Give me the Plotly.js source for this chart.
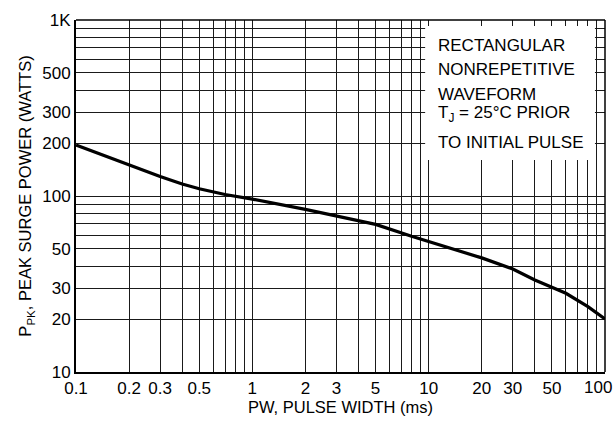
<!DOCTYPE html>
<html>
<head>
<meta charset="utf-8">
<script src="https://cdn.plot.ly/plotly-3.0.1.min.js"></script>
<style>html,body{margin:0;padding:0;background:#fff;}#chart{width:614px;height:427px;}</style>
</head>
<body>
<div id="chart"></div>
<script>
// Curve data: pulse width (ms) vs peak surge power (W)
const pulseWidth = [0.1, 0.2, 0.3, 0.4, 0.5, 0.7, 1, 2, 3, 5, 8, 10, 20, 30, 40, 60, 80, 100];
const peakPower  = [195, 150, 129, 117, 110, 102, 96, 84, 77, 69, 59, 55, 44.5, 38.5, 33.3, 28, 23.5, 20];

// Labelled ticks
const xLabelVals = [0.1, 0.2, 0.3, 0.5, 1, 2, 3, 5, 10, 20, 30, 50, 100];
const xLabelText = ['0.1', '0.2', '0.3', '0.5', '1', '2', '3', '5', '10', '20', '30', '50', '100'];
const yLabelVals = [10, 20, 30, 50, 100, 200, 300, 500, 1000];
const yLabelText = ['10', '20', '30', '50', '100', '200', '300', '500', '1K'];

// Note text lines
const noteLines = ['RECTANGULAR', 'NONREPETITIVE', 'WAVEFORM', 'T<sub>J</sub> = 25°C PRIOR', 'TO INITIAL PULSE'];

function gridTicks(decades, labelVals, labelText, hideLast) {
  const vals = [], text = [];
  decades.forEach(d => {
    for (let m = 1; m <= 9; m++) {
      const v = +(m * d).toPrecision(3);
      vals.push(v);
      const i = labelVals.findIndex(l => Math.abs(l - v) < 1e-9);
      text.push(i >= 0 ? labelText[i] : '');
    }
  });
  vals.push(labelVals[labelVals.length - 1]);
  text.push(hideLast ? '' : labelText[labelText.length - 1]);
  return {vals, text};
}
const xt = gridTicks([0.1, 1, 10], xLabelVals, xLabelText, true);
const yt = gridTicks([10, 100], yLabelVals, yLabelText, false);

const font = '"Liberation Sans", Arial, Helvetica, sans-serif';

const trace = {
  x: pulseWidth, y: peakPower, type: 'scatter', mode: 'lines',
  line: {color: '#000', width: 3.2},
  hoverinfo: 'skip'
};

const noteY = [0.928, 0.860, 0.788, 0.733, 0.653];
const annotations = noteLines.map((t, i) => ({
  xref: 'paper', yref: 'paper', x: 0.6805, y: noteY[i],
  xanchor: 'left', yanchor: 'middle', showarrow: false,
  text: t, font: {family: font, size: 17, color: '#000'}
}));
annotations.push({
  xref: 'paper', yref: 'paper', x: 1, y: 0, xanchor: 'center', yanchor: 'top',
  xshift: -7, yshift: -4, showarrow: false,
  text: xLabelText[xLabelText.length - 1], font: {family: font, size: 17, color: '#000'}
});

const layout = {
  width: 614, height: 427,
  margin: {l: 76, r: 9, t: 20, b: 55},
  paper_bgcolor: '#fff', plot_bgcolor: '#fff',
  showlegend: false,
  font: {family: font, size: 17, color: '#000'},
  xaxis: {
    type: 'log', range: [-1, 2], tickmode: 'array', tickvals: xt.vals, ticktext: xt.text,
    showgrid: true, gridcolor: '#1a1a1a', gridwidth: 1,
    showline: true, linecolor: '#000', linewidth: 2, ticks: '',
    tickfont: {family: font, size: 17}, tickangle: 0,
    title: {text: 'PW, PULSE WIDTH (ms)', font: {family: font, size: 16.5}, standoff: 4},
    automargin: false, fixedrange: true
  },
  yaxis: {
    type: 'log', range: [1, 3], tickmode: 'array', tickvals: yt.vals, ticktext: yt.text,
    showgrid: true, gridcolor: '#1a1a1a', gridwidth: 1,
    showline: true, linecolor: '#000', linewidth: 2, ticks: '',
    tickfont: {family: font, size: 17},
    title: {text: 'P<sub>PK</sub>, PEAK SURGE POWER (WATTS)', font: {family: font, size: 16.5}, standoff: 6},
    automargin: false, fixedrange: true
  },
  shapes: [
    {type: 'rect', xref: 'paper', yref: 'paper', x0: 0.660, x1: 0.981, y0: 0.602, y1: 0.983,
     fillcolor: '#fff', line: {width: 0}, layer: 'above'},
    {type: 'line', xref: 'paper', yref: 'paper', x0: 0, x1: 1, y0: 1, y1: 1, line: {color: '#000', width: 1.5}},
    {type: 'line', xref: 'paper', yref: 'paper', x0: 1, x1: 1, y0: 0, y1: 1, line: {color: '#000', width: 1.5}}
  ],
  annotations: annotations
};

Plotly.newPlot('chart', [trace], layout, {staticPlot: true, displayModeBar: false});
</script>
</body>
</html>
